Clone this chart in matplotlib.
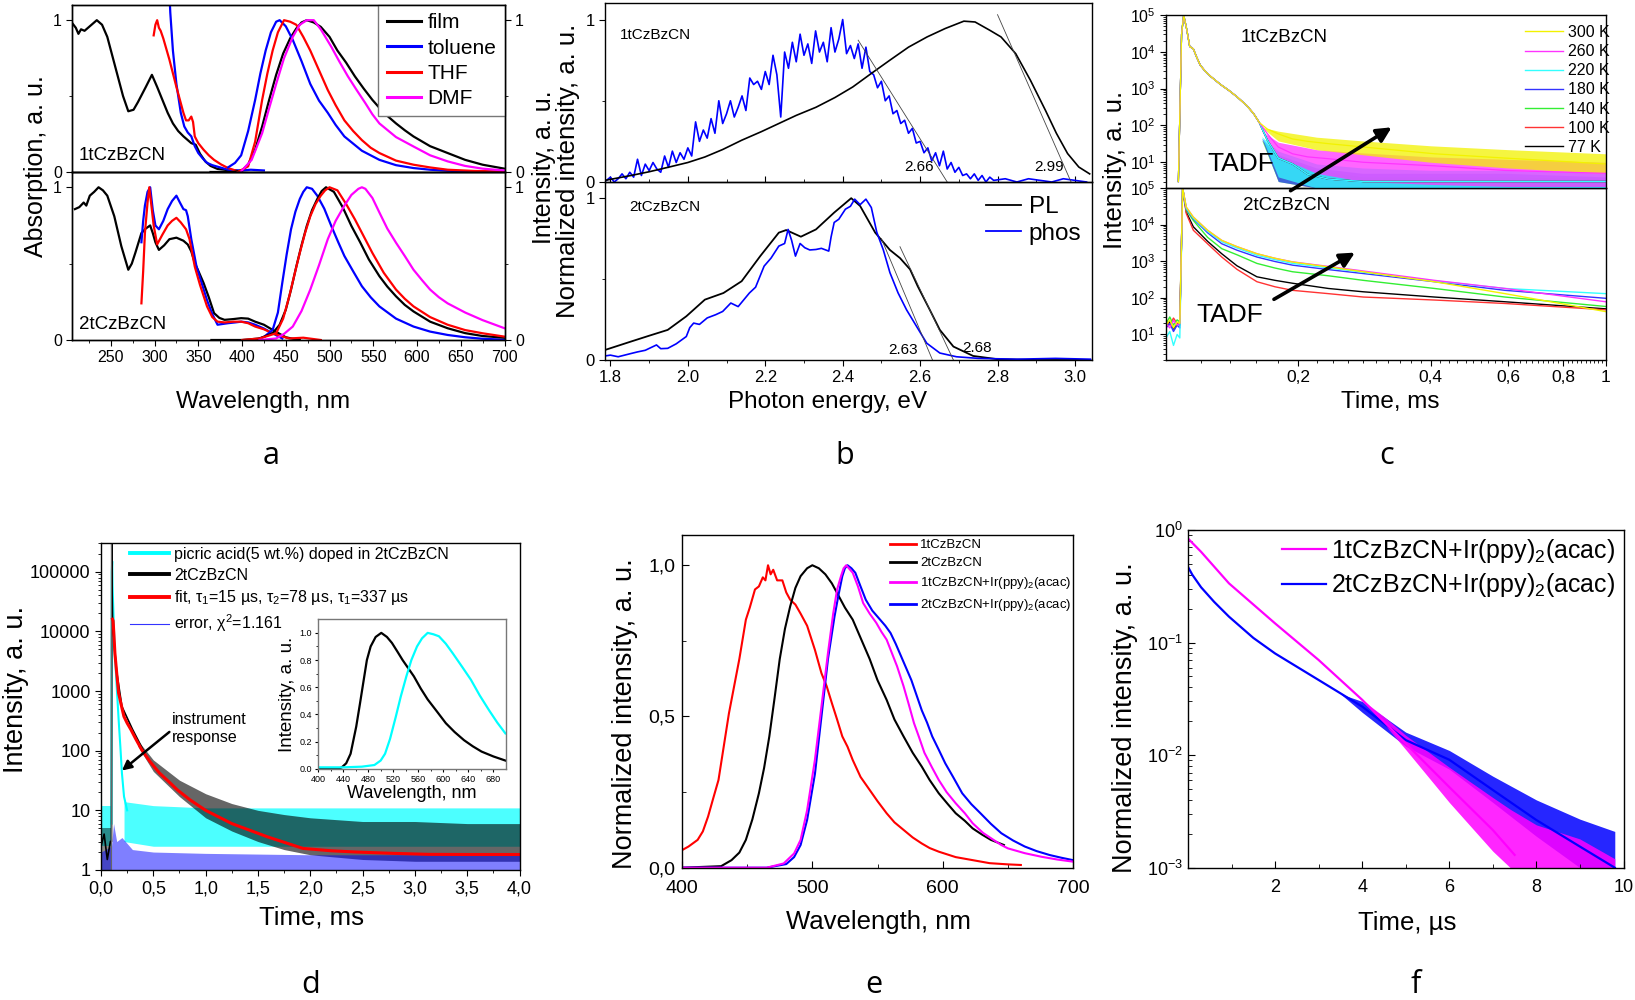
import numpy as np
import matplotlib
matplotlib.use('Agg')
from matplotlib import pyplot as plt
from matplotlib.ticker import FixedLocator, FuncFormatter, LogLocator, NullFormatter, LogFormatterMathtext
from matplotlib.lines import Line2D

plt.rcParams['font.family'] = ['Liberation Sans', 'DejaVu Sans']
plt.rcParams['mathtext.fontset'] = 'custom'
plt.rcParams['mathtext.rm'] = 'Liberation Sans'
plt.rcParams['mathtext.it'] = 'Liberation Sans:italic'
plt.rcParams['mathtext.default'] = 'regular'
plt.rcParams['axes.linewidth'] = 1.0

# %% panel a: absorption / PL of 1tCzBzCN and 2tCzBzCN
a1_film_abs_x = [206, 210, 213, 216, 220, 226, 234, 240, 246, 252, 258, 264, 270, 276, 281, 290, 297, 303, 309, 315, 321, 327, 333, 342, 347, 352, 358, 364, 372, 380, 390, 400]
a1_film_abs_y = [0.98, 0.95, 0.91, 0.94, 0.93, 0.96, 1.0, 0.97, 0.89, 0.76, 0.63, 0.50, 0.40, 0.41, 0.46, 0.56, 0.64, 0.56, 0.475, 0.39, 0.32, 0.27, 0.235, 0.19, 0.18, 0.12, 0.07, 0.04, 0.02, 0.015, 0.008, 0.004]
a1_tol_abs_x = [316, 318, 321, 325, 330, 334, 338, 342, 346, 350, 355, 360, 366, 372, 378, 384, 392, 400, 410, 425]
a1_tol_abs_y = [1.3, 1.05, 0.80, 0.58, 0.39, 0.30, 0.26, 0.235, 0.17, 0.125, 0.09, 0.06, 0.045, 0.035, 0.025, 0.015, 0.012, 0.01, 0.015, 0.01]
a1_thf_abs_x = [299, 301, 303, 305, 307, 310, 313, 317, 321, 325, 329, 333, 336, 339, 342, 344, 346, 350, 356, 362, 368, 376, 384, 395]
a1_thf_abs_y = [0.90, 0.97, 1.0, 0.95, 0.93, 0.88, 0.82, 0.74, 0.65, 0.56, 0.475, 0.39, 0.34, 0.34, 0.365, 0.33, 0.234, 0.19, 0.147, 0.11, 0.08, 0.05, 0.026, 0.005]

a1_film_pl_x = [364, 390, 400, 407, 415, 423, 431, 439, 447, 455, 462, 468, 474, 482, 490, 500, 509, 519, 529, 539, 549, 562, 576, 586, 596, 615, 635, 655, 675, 700]
a1_film_pl_y = [0.0, 0.0, 0.01, 0.05, 0.147, 0.30, 0.475, 0.64, 0.78, 0.88, 0.945, 0.985, 1.0, 0.985, 0.956, 0.89, 0.80, 0.72, 0.63, 0.55, 0.475, 0.39, 0.32, 0.275, 0.234, 0.17, 0.125, 0.08, 0.048, 0.022]
a1_tol_pl_x = [384, 392, 399, 407, 415, 421, 427, 433, 439, 443, 450, 458, 468, 478, 488, 498, 507, 517, 537, 557, 576, 596, 615, 635, 665, 700]
a1_tol_pl_y = [0.03, 0.06, 0.11, 0.27, 0.475, 0.65, 0.80, 0.92, 0.99, 1.0, 0.96, 0.87, 0.73, 0.58, 0.47, 0.39, 0.31, 0.234, 0.14, 0.08, 0.045, 0.026, 0.015, 0.008, 0.004, 0.0]
a1_thf_pl_x = [395, 407, 415, 423, 429, 435, 441, 448, 455, 462, 470, 478, 488, 498, 507, 517, 527, 537, 547, 557, 576, 596, 615, 635, 665, 700]
a1_thf_pl_y = [0.0, 0.037, 0.2, 0.475, 0.65, 0.80, 0.92, 1.0, 0.99, 0.97, 0.89, 0.80, 0.67, 0.54, 0.44, 0.34, 0.27, 0.21, 0.16, 0.125, 0.075, 0.048, 0.03, 0.015, 0.007, 0.003]
a1_dmf_pl_x = [399, 411, 423, 431, 439, 448, 458, 466, 474, 482, 490, 502, 511, 521, 531, 541, 549, 557, 576, 596, 615, 635, 655, 675, 700]
a1_dmf_pl_y = [0.004, 0.08, 0.256, 0.42, 0.58, 0.75, 0.89, 0.97, 1.0, 1.0, 0.94, 0.825, 0.73, 0.63, 0.54, 0.453, 0.38, 0.32, 0.23, 0.168, 0.11, 0.07, 0.04, 0.022, 0.01]

a2_film_abs_x = [209, 214, 219, 222, 226, 231, 236, 241, 246, 254, 262, 270, 274, 278, 285, 290, 295, 298, 301, 305, 311, 317, 325, 333, 338, 342, 346, 351, 356, 362, 368, 374, 380, 390, 399, 407, 415, 425, 435, 443, 450, 458, 466]
a2_film_abs_y = [0.857, 0.87, 0.90, 0.88, 0.945, 0.97, 1.0, 0.98, 0.945, 0.81, 0.615, 0.46, 0.50, 0.57, 0.70, 0.73, 0.75, 0.70, 0.64, 0.59, 0.62, 0.66, 0.67, 0.65, 0.625, 0.58, 0.505, 0.44, 0.374, 0.28, 0.176, 0.145, 0.132, 0.137, 0.143, 0.14, 0.12, 0.10, 0.066, 0.04, 0.018, 0.008, 0.004]
a2_tol_abs_x = [285, 287, 289, 292, 295, 298, 301, 305, 310, 315, 320, 325, 329, 333, 336, 338, 342, 348, 354, 360, 366, 372, 378, 384, 392, 399, 407, 415, 425, 435, 446]
a2_tol_abs_y = [0.64, 0.78, 0.88, 0.97, 1.0, 0.85, 0.75, 0.725, 0.78, 0.857, 0.91, 0.945, 0.90, 0.857, 0.85, 0.81, 0.66, 0.48, 0.37, 0.26, 0.17, 0.10, 0.105, 0.11, 0.115, 0.12, 0.115, 0.10, 0.075, 0.044, 0.01]
a2_thf_abs_x = [285, 287, 289, 292, 294, 297, 299, 303, 309, 315, 320, 325, 330, 336, 340, 346, 352, 360, 366, 372, 380, 390, 399, 407, 415, 425, 435, 445, 454, 470, 490]
a2_thf_abs_y = [0.24, 0.45, 0.70, 0.90, 1.0, 0.85, 0.75, 0.626, 0.69, 0.75, 0.78, 0.80, 0.77, 0.725, 0.66, 0.48, 0.36, 0.22, 0.15, 0.12, 0.115, 0.12, 0.12, 0.11, 0.088, 0.07, 0.044, 0.025, 0.01, 0.015, 0.0]

a2_tol_pl_x = [415, 425, 435, 441, 446, 451, 456, 461, 466, 470, 474, 480, 486, 494, 502, 510, 517, 527, 537, 547, 557, 576, 596, 615, 635, 655, 675, 700]
a2_tol_pl_y = [0.0, 0.02, 0.066, 0.18, 0.374, 0.56, 0.725, 0.84, 0.923, 0.97, 1.0, 0.99, 0.945, 0.86, 0.747, 0.64, 0.55, 0.45, 0.352, 0.28, 0.22, 0.14, 0.088, 0.055, 0.033, 0.018, 0.008, 0.002]
a2_film_pl_x = [365, 400, 420, 435, 443, 450, 456, 462, 468, 474, 480, 486, 491, 496, 505, 515, 525, 535, 545, 557, 566, 576, 586, 596, 615, 635, 655, 675, 700]
a2_film_pl_y = [0.0, 0.0, 0.01, 0.044, 0.1, 0.198, 0.33, 0.48, 0.62, 0.747, 0.85, 0.923, 0.975, 1.0, 0.97, 0.87, 0.747, 0.64, 0.527, 0.418, 0.35, 0.286, 0.23, 0.187, 0.12, 0.077, 0.045, 0.026, 0.015]
a2_thf_pl_x = [400, 420, 439, 447, 454, 460, 466, 472, 478, 484, 490, 495, 500, 509, 519, 529, 539, 549, 562, 576, 586, 596, 615, 635, 655, 675, 700]
a2_thf_pl_y = [0.0, 0.01, 0.044, 0.14, 0.286, 0.43, 0.57, 0.70, 0.81, 0.89, 0.945, 0.98, 1.0, 0.98, 0.89, 0.79, 0.68, 0.57, 0.44, 0.33, 0.27, 0.22, 0.15, 0.10, 0.065, 0.044, 0.022]
a2_dmf_pl_x = [420, 439, 448, 458, 468, 478, 488, 498, 507, 517, 525, 533, 537, 541, 549, 557, 566, 576, 586, 596, 606, 615, 625, 635, 655, 675, 700]
a2_dmf_pl_y = [0.0, 0.01, 0.04, 0.088, 0.19, 0.33, 0.49, 0.66, 0.78, 0.88, 0.95, 0.99, 1.0, 0.99, 0.93, 0.835, 0.73, 0.637, 0.55, 0.46, 0.39, 0.33, 0.28, 0.24, 0.18, 0.13, 0.077]

# %% panel b: PL and phosphorescence vs photon energy
b1_pl_x = [1.786, 1.853, 1.90, 1.948, 2.0, 2.044, 2.09, 2.139, 2.19, 2.235, 2.28, 2.331, 2.38, 2.426, 2.475, 2.522, 2.57, 2.618, 2.665, 2.713, 2.742, 2.78, 2.809, 2.847, 2.885, 2.924, 2.952, 2.981, 3.01, 3.038]
b1_pl_y = [0.01, 0.04, 0.063, 0.09, 0.12, 0.154, 0.20, 0.257, 0.31, 0.36, 0.41, 0.46, 0.52, 0.585, 0.67, 0.75, 0.83, 0.893, 0.945, 0.99, 0.985, 0.934, 0.893, 0.79, 0.626, 0.44, 0.30, 0.175, 0.092, 0.05]
b1_phos_x = [1.79, 1.80, 1.81, 1.82, 1.83, 1.84, 1.85, 1.86, 1.87, 1.88, 1.89, 1.90, 1.91, 1.92, 1.93, 1.94, 1.95, 1.96, 1.97, 1.98, 1.99,
             2.00, 2.01, 2.02, 2.03, 2.04, 2.05, 2.06, 2.07, 2.08, 2.09, 2.10, 2.11, 2.12, 2.13, 2.14, 2.15, 2.16, 2.17, 2.18, 2.19,
             2.20, 2.21, 2.22, 2.23, 2.24, 2.25, 2.26, 2.27, 2.28, 2.29, 2.30, 2.31, 2.32, 2.33, 2.34, 2.35, 2.36, 2.37, 2.38, 2.39,
             2.40, 2.41, 2.42, 2.43, 2.44, 2.45, 2.46, 2.47, 2.48, 2.49, 2.50, 2.51, 2.52, 2.53, 2.54, 2.55, 2.56, 2.57, 2.58, 2.59,
             2.60, 2.61, 2.62, 2.63, 2.64, 2.65, 2.66, 2.67, 2.68, 2.69, 2.70, 2.71, 2.72, 2.73, 2.74, 2.75, 2.76, 2.77, 2.78, 2.79,
             2.82, 2.85, 2.88, 2.91, 2.94, 2.97, 3.00, 3.03]
b1_phos_y = [0.01, 0.03, 0.00, 0.02, 0.05, 0.02, 0.06, 0.03, 0.14, 0.04, 0.11, 0.07, 0.12, 0.08, 0.06, 0.16, 0.09, 0.19, 0.12, 0.18, 0.14,
             0.21, 0.16, 0.37, 0.25, 0.32, 0.27, 0.39, 0.30, 0.50, 0.36, 0.42, 0.50, 0.40, 0.46, 0.53, 0.44, 0.64, 0.60, 0.62, 0.57,
             0.68, 0.60, 0.78, 0.66, 0.40, 0.80, 0.70, 0.86, 0.74, 0.91, 0.78, 0.85, 0.73, 0.93, 0.80, 0.86, 0.74, 0.95, 0.80, 0.88,
             1.00, 0.79, 0.84, 0.76, 0.85, 0.70, 0.83, 0.68, 0.66, 0.58, 0.62, 0.50, 0.53, 0.42, 0.44, 0.36, 0.38, 0.30, 0.33, 0.24,
             0.25, 0.18, 0.21, 0.13, 0.18, 0.10, 0.19, 0.08, 0.12, 0.06, 0.09, 0.04, 0.05, 0.02, 0.05, 0.01, 0.04, 0.00, 0.03, 0.01,
             0.02, 0.00, 0.02, 0.01, 0.00, 0.02, 0.01, 0.00]
b2_pl_x = [1.786, 1.853, 1.90, 1.948, 1.996, 2.044, 2.092, 2.139, 2.187, 2.235, 2.254, 2.292, 2.331, 2.378, 2.422, 2.445, 2.484, 2.522, 2.548, 2.574, 2.594, 2.625, 2.651, 2.686, 2.737, 2.80, 2.9, 3.04]
b2_pl_y = [0.062, 0.114, 0.15, 0.186, 0.27, 0.373, 0.414, 0.487, 0.642, 0.787, 0.803, 0.762, 0.807, 0.911, 1.0, 0.952, 0.787, 0.68, 0.63, 0.56, 0.455, 0.31, 0.186, 0.083, 0.025, 0.005, 0.0, 0.0]
b2_phos_x = [1.786, 1.80, 1.82, 1.853, 1.87, 1.89, 1.919, 1.93, 1.948, 1.97, 1.996, 2.005, 2.015, 2.03, 2.05, 2.072, 2.09, 2.111, 2.13, 2.159, 2.175, 2.197, 2.215, 2.235, 2.25, 2.259, 2.268, 2.278, 2.29, 2.302, 2.315, 2.331, 2.345, 2.364, 2.37, 2.378, 2.39, 2.407, 2.42, 2.431, 2.445, 2.46, 2.474, 2.488, 2.505, 2.522, 2.543, 2.565, 2.591, 2.617, 2.651, 2.694, 2.75, 2.85, 2.95, 3.04]
b2_phos_y = [0.025, 0.03, 0.02, 0.04, 0.05, 0.06, 0.093, 0.07, 0.072, 0.10, 0.145, 0.20, 0.228, 0.22, 0.26, 0.28, 0.30, 0.352, 0.33, 0.414, 0.45, 0.58, 0.63, 0.704, 0.72, 0.807, 0.74, 0.642, 0.72, 0.694, 0.68, 0.683, 0.69, 0.673, 0.76, 0.85, 0.87, 0.932, 0.95, 0.994, 0.96, 0.994, 0.942, 0.79, 0.68, 0.54, 0.415, 0.31, 0.207, 0.104, 0.043, 0.02, 0.01, 0.005, 0.01, 0.005]
b1_tangents = [([2.44, 2.67], [0.873, 0.0]), ([2.80, 2.99], [1.03, 0.0])]
b2_tangents = [([2.50, 2.632], [0.75, 0.0]), ([2.548, 2.686], [0.70, 0.0])]
b1_onsets = [('2.66', 2.598, 0.09), ('2.99', 2.933, 0.09)]
b2_onsets = [('2.63', 2.557, 0.06), ('2.68', 2.746, 0.075)]

# %% panel c: temperature dependent decays
c_temps = ['300 K', '260 K', '220 K', '180 K', '140 K', '100 K', '77 K']
c_colors = ['#f2f200', '#ff33ff', '#33ffff', '#3333ff', '#33ee33', '#ff3333', '#000000']
c1_t_common = [0.1067, 0.1085, 0.1097, 0.1115, 0.1132, 0.1154, 0.1175, 0.1197, 0.1230, 0.1266, 0.1330, 0.1389, 0.1450, 0.1525, 0.1582, 0.1630]
c1_I_common = [3, 3e4, 1e5, 4e4, 1.4e4, 1.2e4, 7e3, 4.3e3, 2.9e3, 2.1e3, 1.3e3, 900, 600, 350, 210, 120]
c1_t_tail = [0.1630, 0.170, 0.180, 0.194, 0.210, 0.234, 0.281, 0.408, 0.590, 1.0]
c1_I_tail = {
    '300 K': [120, 80, 59, 43, 37, 32, 26, 17, 13, 9],
    '260 K': [120, 60, 26, 17, 14, 12.5, 10, 8, 6, 5],
    'cold': [120, 40, 13, 9, 4.7, 3.5, 3, 3, 3, 3],
}
c1_band_t = [0.165, 0.18, 0.22, 0.28, 0.40, 0.60, 1.0]
c1_band = {
    '300 K': ([90, 38, 22, 16, 10, 7, 5], [90, 70, 48, 38, 28, 22, 17]),
    '260 K': ([70, 14, 5, 3, 2.5, 2.2, 2.2], [70, 35, 22, 18, 14, 12, 10]),
    '220 K': ([50, 4, 2, 2, 2, 2, 2], [50, 20, 9, 7, 6, 6, 5]),
    '180 K': ([45, 3, 2, 2, 2, 2, 2], [45, 16, 7, 5, 5, 5, 4]),
    '140 K': ([40, 3, 2, 2, 2, 2, 2], [40, 14, 6, 4, 4, 4, 3.5]),
}
c2_t = [0.100, 0.102, 0.104, 0.106, 0.1075, 0.1091, 0.1112, 0.1154, 0.1243, 0.1339, 0.1450, 0.1610, 0.1770, 0.1940, 0.2340, 0.2810, 0.4080, 0.5900, 1.0]
c2_I = {
    '300 K': [18, 25, 15, 22, 20, 1e5, 3.0e4, 1.6e4, 7.0e3, 3.7e3, 2.5e3, 1.6e3, 1.2e3, 950, 700, 515, 275, 130, 42],
    '260 K': [20, 15, 24, 18, 20, 1e5, 3.0e4, 1.6e4, 7.0e3, 3.7e3, 2.5e3, 1.6e3, 1.2e3, 960, 720, 540, 300, 180, 78],
    '220 K': [8, 12, 5, 10, 8, 1e5, 2.8e4, 1.5e4, 6.5e3, 3.4e3, 2.3e3, 1.45e3, 1.1e3, 870, 660, 500, 290, 180, 130],
    '180 K': [15, 20, 12, 18, 15, 1e5, 2.7e4, 1.45e4, 6.0e3, 3.0e3, 2.0e3, 1.3e3, 980, 780, 590, 460, 275, 160, 97],
    '140 K': [20, 30, 18, 25, 22, 1e5, 2.5e4, 1.3e4, 4.5e3, 2.2e3, 1.5e3, 870, 650, 515, 400, 300, 180, 105, 58],
    '100 K': [25, 18, 28, 20, 22, 1e5, 2.0e4, 7.0e3, 3.0e3, 1.3e3, 600, 275, 200, 160, 130, 105, 87, 70, 47],
    '77 K': [16, 22, 14, 20, 18, 1e5, 2.2e4, 8.7e3, 3.5e3, 1.6e3, 750, 375, 300, 250, 180, 146, 105, 78, 50],
}

# %% panel d: picric acid doped film decay + inset PL
d_t_excitation = 0.1
d_t_red = [0.11, 0.116, 0.133, 0.15, 0.168, 0.2, 0.219, 0.25, 0.287, 0.33, 0.39, 0.47, 0.56, 0.65, 0.73, 0.85, 1.0, 1.25, 1.59, 1.93, 2.2, 2.44, 2.8, 3.13, 3.5, 4.0]
d_I_red = [1.6e4, 1.5e4, 4.3e3, 2e3, 930, 520, 375, 290, 224, 160, 103, 65, 42, 30, 22, 15, 10, 6, 3.6, 2.3, 2.1, 2.0, 1.9, 1.83, 1.82, 1.82]
d_t_black = [0.0, 0.03, 0.06, 0.09, 0.100, 0.103, 0.106, 0.11, 0.13, 0.15, 0.2, 0.3, 0.4]
d_I_black = [2.5, 4, 1.5, 3, 3, 3e5, 5e4, 1.7e4, 5e3, 2.1e3, 550, 230, 105]
d_t_black_band = [0.35, 0.5, 0.75, 1.0, 1.25, 1.5, 1.75, 2.0, 2.5, 3.0, 3.5, 4.0]
d_black_lo = [120, 45, 17, 7.5, 4.5, 3, 2.2, 1.8, 1.5, 1.4, 1.4, 1.4]
d_black_hi = [150, 70, 32, 19, 13, 10, 8.5, 7.5, 6.5, 6.5, 6, 6]
d_t_pre = [0.0, 0.1]
d_black_pre_lo = [1.0, 1.0]
d_black_pre_hi = [5, 5]
d_cyan_pre_lo = [2.5, 2.5]
d_cyan_pre_hi = [12, 12]
d_t_cyan = [0.1, 0.103, 0.107, 0.11, 0.13, 0.15, 0.17, 0.185, 0.2, 0.22, 0.25]
d_I_cyan = [6, 1e5, 1.5e5, 6e4, 5e3, 1.2e3, 300, 117, 42, 17, 10]
d_t_cyan_band = [0.22, 0.5, 1.0, 2.0, 3.0, 4.0]
d_cyan_lo = [3, 2.5, 2.5, 2.5, 2.5, 2.5]
d_cyan_hi = [14, 12, 11, 11, 11, 11]
d_t_err = [0.0, 0.1, 0.12, 0.15, 0.2, 0.3, 0.5, 1.0, 2.0, 4.0]
d_err_hi = [2.0, 2.5, 6, 3.0, 3.5, 2.2, 2.0, 1.9, 1.8, 1.8]
d_in_black_x = [400, 420, 433, 438, 445, 452, 461, 467, 473, 478, 484, 492, 501, 510, 518, 527, 535, 544, 553, 564, 575, 590, 604, 618, 633, 647, 661, 680, 699]
d_in_black_y = [0.0, 0.0, 0.0, 0.01, 0.04, 0.11, 0.31, 0.48, 0.655, 0.80, 0.90, 0.97, 1.0, 0.97, 0.926, 0.86, 0.80, 0.74, 0.68, 0.59, 0.51, 0.42, 0.335, 0.27, 0.21, 0.165, 0.126, 0.09, 0.06]
d_in_cyan_x = [400, 440, 470, 490, 500, 507, 515, 524, 532, 541, 549, 558, 566, 575, 584, 593, 604, 615, 630, 644, 658, 673, 686, 699]
d_in_cyan_y = [0.01, 0.01, 0.015, 0.027, 0.06, 0.11, 0.22, 0.38, 0.53, 0.68, 0.80, 0.90, 0.96, 1.0, 0.99, 0.975, 0.92, 0.85, 0.75, 0.655, 0.54, 0.43, 0.34, 0.26]

# %% panel e: PL spectra
e_red_x = [400, 405, 412, 416, 420, 424, 428, 432, 436, 440, 444, 449, 452, 456, 459, 462, 464, 466, 468, 470, 473, 477, 480, 483, 487, 491, 496, 499, 502, 507, 511, 515, 519, 523, 527, 531, 537, 544, 550, 557, 563, 570, 577, 584, 590, 597, 610, 623, 636, 650, 660]
e_red_y = [0.058, 0.07, 0.092, 0.12, 0.169, 0.23, 0.29, 0.40, 0.51, 0.60, 0.69, 0.82, 0.86, 0.92, 0.93, 0.96, 0.95, 1.0, 0.97, 0.985, 0.95, 0.95, 0.91, 0.886, 0.87, 0.84, 0.80, 0.76, 0.72, 0.643, 0.60, 0.544, 0.49, 0.434, 0.40, 0.356, 0.30, 0.257, 0.22, 0.18, 0.15, 0.125, 0.10, 0.08, 0.065, 0.053, 0.035, 0.025, 0.015, 0.011, 0.009]
e_black_x = [400, 430, 438, 444, 449, 454, 459, 463, 467, 471, 475, 479, 483, 487, 491, 496, 500, 505, 510, 515, 520, 525, 531, 537, 544, 550, 557, 563, 570, 577, 584, 590, 597, 604, 610, 617, 623, 630, 637, 647]
e_black_y = [0.0, 0.005, 0.025, 0.05, 0.092, 0.16, 0.246, 0.33, 0.434, 0.56, 0.69, 0.79, 0.864, 0.925, 0.964, 0.99, 1.0, 0.99, 0.97, 0.94, 0.90, 0.86, 0.82, 0.76, 0.69, 0.62, 0.555, 0.49, 0.434, 0.38, 0.334, 0.29, 0.246, 0.21, 0.18, 0.155, 0.13, 0.11, 0.092, 0.075]
e_mag_x = [400, 465, 478, 486, 491, 496, 502, 507, 512, 516, 519, 522, 524, 526, 528, 531, 535, 539, 544, 549, 553, 557, 561, 565, 570, 574, 578, 582, 586, 592, 597, 603, 610, 617, 623, 631, 639, 645, 650, 663, 676, 688, 700]
e_mag_y = [0.0, 0.0, 0.014, 0.047, 0.092, 0.19, 0.357, 0.533, 0.71, 0.84, 0.92, 0.964, 0.99, 1.0, 0.99, 0.975, 0.93, 0.875, 0.84, 0.81, 0.78, 0.754, 0.71, 0.666, 0.60, 0.54, 0.478, 0.43, 0.38, 0.33, 0.29, 0.25, 0.213, 0.18, 0.147, 0.115, 0.092, 0.075, 0.064, 0.048, 0.036, 0.027, 0.02]
e_blue_x = [400, 465, 480, 486, 491, 496, 502, 507, 512, 517, 520, 523, 525, 527, 530, 533, 537, 541, 546, 552, 556, 560, 564, 568, 572, 576, 580, 584, 588, 592, 597, 602, 608, 615, 622, 629, 637, 645, 654, 663, 672, 682, 691, 700]
e_blue_y = [0.0, 0.0, 0.012, 0.035, 0.075, 0.158, 0.31, 0.50, 0.69, 0.83, 0.90, 0.964, 0.99, 1.0, 0.99, 0.975, 0.93, 0.886, 0.85, 0.82, 0.80, 0.776, 0.74, 0.70, 0.66, 0.62, 0.57, 0.52, 0.48, 0.434, 0.39, 0.345, 0.30, 0.246, 0.21, 0.18, 0.145, 0.114, 0.09, 0.07, 0.055, 0.042, 0.033, 0.025]
e_labels = ['1tCzBzCN', '2tCzBzCN', '1tCzBzCN+Ir(ppy)$_2$(acac)', '2tCzBzCN+Ir(ppy)$_2$(acac)']

# %% panel f: doped film decays
f_t_mag = [0.0, 0.3, 0.94, 2.0, 3.0, 4.0, 5.0, 6.0, 7.0, 7.5]
f_I_mag = [0.84, 0.64, 0.336, 0.148, 0.07, 0.031, 0.0127, 0.0052, 0.00216, 0.0013]
f_t_mag_band = [4.0, 4.5, 5.0, 6.0, 7.0, 7.4, 8.0, 9.0, 9.8]
f_mag_lo = [0.031, 0.019, 0.0112, 0.0038, 0.0014, 0.001, 0.001, 0.001, 0.001]
f_mag_hi = [0.031, 0.022, 0.015, 0.0078, 0.0042, 0.0033, 0.0024, 0.0018, 0.0012]
f_t_blue = [0.0, 0.1, 0.3, 0.6, 0.94, 1.5, 2.0, 3.0, 4.0, 5.0, 6.0, 7.0, 8.0, 9.0, 9.8]
f_I_blue = [0.47, 0.4, 0.31, 0.23, 0.17, 0.11, 0.080, 0.0465, 0.027, 0.0136, 0.0091, 0.0049, 0.00265, 0.00154, 0.001]
f_t_blue_band = [3.5, 4.0, 5.0, 6.0, 7.0, 8.0, 9.0, 9.8]
f_blue_lo = [0.035, 0.024, 0.012, 0.0075, 0.0038, 0.0019, 0.001, 0.001]
f_blue_hi = [0.035, 0.030, 0.016, 0.011, 0.0065, 0.004, 0.0027, 0.0021]

# %% layout helpers (pixel boxes of the 1635x1000 canvas)
W, H = 1635, 1000


def box(l, t, r, b):
    return [l / W, 1 - b / H, (r - l) / W, (b - t) / H]


def ftext(x, y, s, **kw):
    kw.setdefault('ha', 'center')
    kw.setdefault('va', 'center')
    fig.text(x / W, 1 - y / H, s, **kw)


comma = FuncFormatter(lambda v, p: f'{v:.1f}'.replace('.', ','))

fig = plt.figure(figsize=(16.35, 10), dpi=100)

# ---------------- a
axa1 = fig.add_axes(box(72.3, 5, 504.5, 172))
axa2 = fig.add_axes(box(72.3, 172, 504.5, 340))
axa2.patch.set_alpha(0)
lw = 1.6
axa1.plot(a1_film_abs_x, a1_film_abs_y, color='k', lw=lw)
axa1.plot(a1_tol_abs_x, a1_tol_abs_y, color='#0000ff', lw=lw)
axa1.plot(a1_thf_abs_x, a1_thf_abs_y, color='#ff0000', lw=lw)
axa1.plot(a1_film_pl_x, a1_film_pl_y, color='k', lw=lw)
axa1.plot(a1_tol_pl_x, a1_tol_pl_y, color='#0000ff', lw=lw)
axa1.plot(a1_thf_pl_x, a1_thf_pl_y, color='#ff0000', lw=lw)
axa1.plot(a1_dmf_pl_x, a1_dmf_pl_y, color='#ff00ff', lw=lw)
axa2.plot(a2_film_abs_x, a2_film_abs_y, color='k', lw=lw)
axa2.plot(a2_tol_abs_x, a2_tol_abs_y, color='#0000ff', lw=lw)
axa2.plot(a2_thf_abs_x, a2_thf_abs_y, color='#ff0000', lw=lw)
axa2.plot(a2_tol_pl_x, a2_tol_pl_y, color='#0000ff', lw=lw)
axa2.plot(a2_film_pl_x, a2_film_pl_y, color='k', lw=lw)
axa2.plot(a2_thf_pl_x, a2_thf_pl_y, color='#ff0000', lw=lw)
axa2.plot(a2_dmf_pl_x, a2_dmf_pl_y, color='#ff00ff', lw=lw)
for ax in (axa1, axa2):
    ax.set_xlim(206, 700)
    ax.set_ylim(0, 1.1)
    ax.set_yticks([0, 1])
    ax.set_yticklabels(['0', '1'])
    ax.yaxis.set_minor_locator(FixedLocator([0.5]))
    ax.xaxis.set_major_locator(FixedLocator(np.arange(250, 701, 50)))
    ax.xaxis.set_minor_locator(FixedLocator(np.arange(225, 700, 50)))
    ax.tick_params(which='both', direction='out', labelsize=11.5, length=4)
    ax.tick_params(which='minor', length=2.5)
    tw = ax.twinx()
    tw.set_ylim(0, 1.1)
    tw.set_yticks([0, 1])
    tw.set_yticklabels(['0', '1'])
    tw.yaxis.set_minor_locator(FixedLocator([0.5]))
    tw.tick_params(which='both', direction='out', labelsize=11.5, length=4)
    tw.tick_params(which='minor', length=2.5)
axa1.tick_params(axis='x', which='both', length=0, labelbottom=False)
axa1.text(0.015, 0.1, '1tCzBzCN', transform=axa1.transAxes, fontsize=13.5, va='center')
axa2.text(0.015, 0.095, '2tCzBzCN', transform=axa2.transAxes, fontsize=13.5, va='center')
a_handles = [Line2D([], [], color=c, lw=2.2) for c in ['k', '#0000ff', '#ff0000', '#ff00ff']]
leg = axa1.legend(a_handles, ['film', 'toluene', 'THF', 'DMF'], loc='upper right', bbox_to_anchor=(1.0, 1.0),
                  borderaxespad=0, fontsize=15, handlelength=1.65, labelspacing=0.3, fancybox=False,
                  edgecolor='#777777', framealpha=1, borderpad=0.4, handletextpad=0.3)
leg.get_frame().set_linewidth(1.0)
ftext(36, 166, 'Absorption, a. u.', rotation=90, fontsize=18)
ftext(544, 167, 'Intensity, a. u.', rotation=90, fontsize=18)
ftext(263, 402, 'Wavelength, nm', fontsize=17.5)

# ---------------- b
axb1 = fig.add_axes(box(605, 3.3, 1091.6, 182))
axb2 = fig.add_axes(box(605, 182, 1091.6, 360))
axb2.patch.set_alpha(0)
axb1.plot(b1_phos_x, b1_phos_y, color='#0000ff', lw=1.2)
axb1.plot(b1_pl_x, b1_pl_y, color='k', lw=1.2)
axb2.plot(b2_pl_x, b2_pl_y, color='k', lw=1.3)
axb2.plot(b2_phos_x, b2_phos_y, color='#0000ff', lw=1.2)
for tx, ty in b1_tangents:
    axb1.plot(tx, ty, color='#444444', lw=0.6)
for tx, ty in b2_tangents:
    axb2.plot(tx, ty, color='#444444', lw=0.6)
for s, x, y in b1_onsets:
    axb1.text(x, y, s, fontsize=11, ha='center', va='center')
for s, x, y in b2_onsets:
    axb2.text(x, y, s, fontsize=11, ha='center', va='center')
for ax in (axb1, axb2):
    ax.set_xlim(1.786, 3.043)
    ax.set_ylim(0, 1.1)
    ax.set_yticks([0, 1])
    ax.set_yticklabels(['0', '1'])
    ax.yaxis.set_minor_locator(FixedLocator([0.5]))
    ax.xaxis.set_major_locator(FixedLocator([1.8, 2.0, 2.2, 2.4, 2.6, 2.8, 3.0]))
    ax.xaxis.set_minor_locator(FixedLocator([1.9, 2.1, 2.3, 2.5, 2.7, 2.9]))
    ax.tick_params(which='both', direction='out', labelsize=12, length=4)
    ax.tick_params(which='minor', length=2.5)
axb2.xaxis.set_major_formatter(FuncFormatter(lambda v, p: f'{v:.1f}'))
axb1.tick_params(axis='x', which='both', labelbottom=False, direction='in')
axb1.text(0.03, 0.82, '1tCzBzCN', transform=axb1.transAxes, fontsize=11, va='center')
axb2.text(0.05, 0.86, '2tCzBzCN', transform=axb2.transAxes, fontsize=11, va='center')
b_handles = [Line2D([], [], color='k', lw=1.3), Line2D([], [], color='#0000ff', lw=1.3)]
axb2.legend(b_handles, ['PL', 'phos'], loc='upper left', bbox_to_anchor=(986 / W, 1 - 196 / H),
            bbox_transform=fig.transFigure, frameon=False, fontsize=17.5, handlelength=1.45,
            labelspacing=0.2, borderpad=0, borderaxespad=0, handletextpad=0.3)
ftext(568, 171, 'Normalized intensity, a. u.', rotation=90, fontsize=18.5)
ftext(827, 402, 'Photon energy, eV', fontsize=17.5)

# ---------------- c
axc1 = fig.add_axes(box(1166, 15, 1605.7, 188))
axc2 = fig.add_axes(box(1166, 188, 1605.7, 360))
axc2.patch.set_alpha(0)
axc1.set_zorder(3)
axc1.patch.set_alpha(0)
c_col = dict(zip(c_temps, c_colors))
for name in ['140 K', '180 K', '220 K', '260 K', '300 K']:
    lo, hi = c1_band[name]
    axc1.fill_between(c1_band_t, lo, hi, color=c_col[name], lw=0, alpha=0.75)
for name in c_temps[::-1]:
    key = name if name in ('300 K', '260 K') else 'cold'
    axc1.plot(c1_t_common + c1_t_tail, c1_I_common + c1_I_tail[key], color=c_col[name], lw=0.9)
for name in c_temps[::-1]:
    axc2.plot(c2_t, c2_I[name], color=c_col[name], lw=1.0)
for ax in (axc1, axc2):
    ax.set_xscale('log')
    ax.set_yscale('log')
    ax.set_xlim(0.1, 1.0)
    ax.set_ylim(2, 1e5)
    ax.xaxis.set_major_locator(FixedLocator([0.2, 0.4, 0.6, 0.8, 1.0]))
    ax.xaxis.set_minor_locator(FixedLocator([v for v in np.arange(0.12, 1.0, 0.02) if abs(v * 5 - round(v * 5)) > 1e-6]))
    ax.xaxis.set_minor_formatter(NullFormatter())
    ax.yaxis.set_major_locator(LogLocator(base=10, numticks=10))
    ax.yaxis.set_minor_locator(LogLocator(base=10, subs=np.arange(2, 10), numticks=10))
    ax.yaxis.set_major_formatter(LogFormatterMathtext())
    ax.tick_params(which='both', direction='out', labelsize=11.5, length=4)
    ax.tick_params(which='minor', length=2)
axc2.xaxis.set_major_formatter(FuncFormatter(lambda v, p: '1' if v == 1 else f'{v:.1f}'.replace('.', ',')))
axc2.tick_params(axis='x', labelsize=12.5)
axc1.tick_params(axis='x', which='both', length=0, labelbottom=False)
axc1.text(0.17, 0.87, '1tCzBzCN', transform=axc1.transAxes, fontsize=13.5, va='center')
axc2.text(0.175, 0.9, '2tCzBzCN', transform=axc2.transAxes, fontsize=13.5, va='center')
axc1.text(0.095, 0.14, 'TADF', transform=axc1.transAxes, fontsize=19, va='center')
axc2.text(0.07, 0.26, 'TADF', transform=axc2.transAxes, fontsize=19, va='center')
axc1.annotate('', xy=(0.326, 89), xytext=(0.192, 1.69), annotation_clip=False,
              arrowprops=dict(arrowstyle='-|>', lw=2.6, color='k', mutation_scale=22, shrinkA=0, shrinkB=0))
axc2.annotate('', xy=(0.269, 1720), xytext=(0.176, 91),
              arrowprops=dict(arrowstyle='-|>', lw=2.6, color='k', mutation_scale=22, shrinkA=0, shrinkB=0))
c_handles = [Line2D([], [], color=c, lw=1.0) for c in c_colors]
axc1.legend(c_handles, c_temps, loc='upper left', bbox_to_anchor=(1525 / W, 1 - 25 / H),
            bbox_transform=fig.transFigure, frameon=False, fontsize=11.5, handlelength=2.4,
            labelspacing=0.26, borderpad=0, borderaxespad=0, handletextpad=0.3)
ftext(1115, 170, 'Intensity, a. u.', rotation=90, fontsize=18.5)
ftext(1390, 402, 'Time, ms', fontsize=17.5)

# ---------------- d
axd = fig.add_axes(box(101, 543.3, 519.6, 870))
axd.fill_between(d_t_pre, d_cyan_pre_lo, d_cyan_pre_hi, color='#00ffff', lw=0, alpha=0.7)
axd.fill_between(d_t_cyan_band, d_cyan_lo, d_cyan_hi, color='#00ffff', lw=0, alpha=0.7)
axd.plot(d_t_cyan, d_I_cyan, color='#00ffff', lw=1.5)
axd.fill_between(d_t_pre, d_black_pre_lo, d_black_pre_hi, color='k', lw=0, alpha=0.45)
axd.fill_between(d_t_black_band, d_black_lo, d_black_hi, color='k', lw=0, alpha=0.6)
axd.plot(d_t_black, d_I_black, color='k', lw=1.2)
axd.axvline(d_t_excitation, color='#666666', lw=0.8)
axd.plot(d_t_red, d_I_red, color='#ff0000', lw=2.2)
axd.fill_between(d_t_err, [1] * len(d_t_err), d_err_hi, color='#0000ff', lw=0, alpha=0.5)
axd.set_yscale('log')
axd.set_xlim(0, 4)
axd.set_ylim(1, 3e5)
axd.xaxis.set_major_locator(FixedLocator(np.arange(0, 4.01, 0.5)))
axd.xaxis.set_minor_locator(FixedLocator(np.arange(0.25, 4, 0.5)))
axd.xaxis.set_major_formatter(comma)
axd.yaxis.set_major_locator(FixedLocator([1, 10, 100, 1000, 10000, 100000]))
axd.yaxis.set_major_formatter(FuncFormatter(lambda v, p: f'{int(round(v))}'))
axd.yaxis.set_minor_locator(LogLocator(base=10, subs=np.arange(2, 10), numticks=10))
axd.yaxis.set_minor_formatter(NullFormatter())
axd.tick_params(which='both', direction='out', labelsize=13, length=4)
axd.tick_params(which='minor', length=2)
d_handles = [Line2D([], [], color='#00ffff', lw=2.8), Line2D([], [], color='k', lw=2.8),
             Line2D([], [], color='#ff0000', lw=2.8), Line2D([], [], color='#3333ff', lw=0.8)]
d_labels = ['picric acid(5 wt.%) doped in 2tCzBzCN', '2tCzBzCN',
            'fit, τ$_1$=15 µs, τ$_2$=78 µs, τ$_1$=337 µs', 'error, χ$^2$=1.161']
axd.legend(d_handles, d_labels, loc='upper left', bbox_to_anchor=(130 / W, 1 - 547 / H),
           bbox_transform=fig.transFigure, frameon=False, fontsize=11.5, handlelength=2.45,
           labelspacing=0.35, borderpad=0, borderaxespad=0, handletextpad=0.3)
axd.annotate('instrument\nresponse', xy=(0.20, 46.5), xytext=(0.68, 240), fontsize=11.5, va='center',
             linespacing=1.25, arrowprops=dict(arrowstyle='-|>', lw=1.8, color='k', mutation_scale=14,
                                               shrinkA=0, shrinkB=0, relpos=(0, 0.45)))
ftext(16, 689, 'Intensity, a. u.', rotation=90, fontsize=19.5)
ftext(311, 917, 'Time, ms', fontsize=18.5)

axi = fig.add_axes(box(318, 619.3, 506, 768.7))
axi.plot(d_in_black_x, d_in_black_y, color='k', lw=1.6)
axi.plot(d_in_cyan_x, d_in_cyan_y, color='#00ffff', lw=1.6)
axi.set_xlim(400, 700)
axi.set_ylim(0, 1.1)
axi.set_xticks(np.arange(400, 700, 40))
axi.xaxis.set_minor_locator(FixedLocator(np.arange(420, 700, 40)))
axi.set_yticks(np.arange(0, 1.01, 0.2))
axi.yaxis.set_major_formatter(FuncFormatter(lambda v, p: f'{v:.1f}'))
axi.yaxis.set_minor_locator(FixedLocator(np.arange(0.1, 1.1, 0.2)))
axi.tick_params(which='both', direction='out', labelsize=6.5, length=2.5, pad=2)
axi.tick_params(which='minor', length=1.5)
for sp in axi.spines.values():
    sp.set_color('#777777')
axi.set_xlabel('Wavelength, nm', fontsize=13, labelpad=1)
axi.set_ylabel('Intensity, a. u.', fontsize=13.5, labelpad=2)

# ---------------- e
axe = fig.add_axes(box(682, 535, 1073, 867.7))
axe.plot(e_red_x, e_red_y, color='#ff0000', lw=1.5)
axe.plot(e_black_x, e_black_y, color='k', lw=1.5)
axe.plot(e_blue_x, e_blue_y, color='#0000ff', lw=1.5)
axe.plot(e_mag_x, e_mag_y, color='#ff00ff', lw=1.5)
axe.set_xlim(400, 700)
axe.set_ylim(0, 1.1)
axe.set_xticks([400, 500, 600, 700])
axe.xaxis.set_minor_locator(FixedLocator([450, 550, 650]))
axe.set_yticks([0, 0.5, 1.0])
axe.yaxis.set_major_formatter(comma)
axe.yaxis.set_minor_locator(FixedLocator([0.25, 0.75]))
axe.tick_params(which='both', direction='in', labelsize=14, length=5)
axe.tick_params(which='minor', length=3)
axe.tick_params(axis='x', pad=9)
axe.tick_params(axis='y', pad=5)
e_handles = [Line2D([], [], color=c, lw=2.0) for c in ['#ff0000', 'k', '#ff00ff', '#0000ff']]
axe.legend(e_handles, e_labels, loc='upper left', bbox_to_anchor=(890 / W, 1 - 539 / H),
           bbox_transform=fig.transFigure, frameon=False, fontsize=9.5, handlelength=2.0,
           labelspacing=0.45, borderpad=0, borderaxespad=0, handletextpad=0.3)
ftext(625, 714, 'Normalized intensity, a. u.', rotation=90, fontsize=19.5)
ftext(878, 922, 'Wavelength, nm', fontsize=18.5)

# ---------------- f
axf = fig.add_axes(box(1188, 530, 1623.5, 867.7))
axf.fill_between(f_t_blue_band, f_blue_lo, f_blue_hi, color='#0000ff', lw=0, alpha=0.85)
axf.plot(f_t_blue, f_I_blue, color='#0000ff', lw=1.6)
axf.fill_between(f_t_mag_band, f_mag_lo, f_mag_hi, color='#ff00ff', lw=0, alpha=0.85)
axf.plot(f_t_mag, f_I_mag, color='#ff00ff', lw=1.6)
axf.set_yscale('log')
axf.set_xlim(0, 10)
axf.set_ylim(1e-3, 1)
axf.set_xticks([2, 4, 6, 8, 10])
axf.xaxis.set_minor_locator(FixedLocator([1, 3, 5, 7, 9]))
axf.yaxis.set_major_locator(FixedLocator([1e-3, 1e-2, 1e-1, 1]))
axf.yaxis.set_major_formatter(LogFormatterMathtext())
axf.yaxis.set_minor_locator(LogLocator(base=10, subs=np.arange(2, 10), numticks=10))
axf.yaxis.set_minor_formatter(NullFormatter())
axf.tick_params(which='both', direction='in', labelsize=13, length=5)
axf.tick_params(which='minor', length=3)
axf.tick_params(axis='x', pad=8)
f_handles = [Line2D([], [], color='#ff00ff', lw=1.6), Line2D([], [], color='#0000ff', lw=1.6)]
axf.legend(f_handles, e_labels[2:], loc='upper left', bbox_to_anchor=(1282 / W, 1 - 537 / H),
           bbox_transform=fig.transFigure, frameon=False, fontsize=18, handlelength=1.75,
           labelspacing=0.25, borderpad=0, borderaxespad=0, handletextpad=0.2)
ftext(1125, 718, 'Normalized intensity, a. u.', rotation=90, fontsize=19.5)
ftext(1407, 923, 'Time, µs', fontsize=18.5)

# panel letters
for s, x, y in [('a', 271, 456), ('b', 845, 456), ('c', 1387, 456), ('d', 311, 985), ('e', 874, 985), ('f', 1416, 985)]:
    ftext(x, y, s, fontsize=22, family='Open Sans')

fig.savefig('out.png', dpi=100)
